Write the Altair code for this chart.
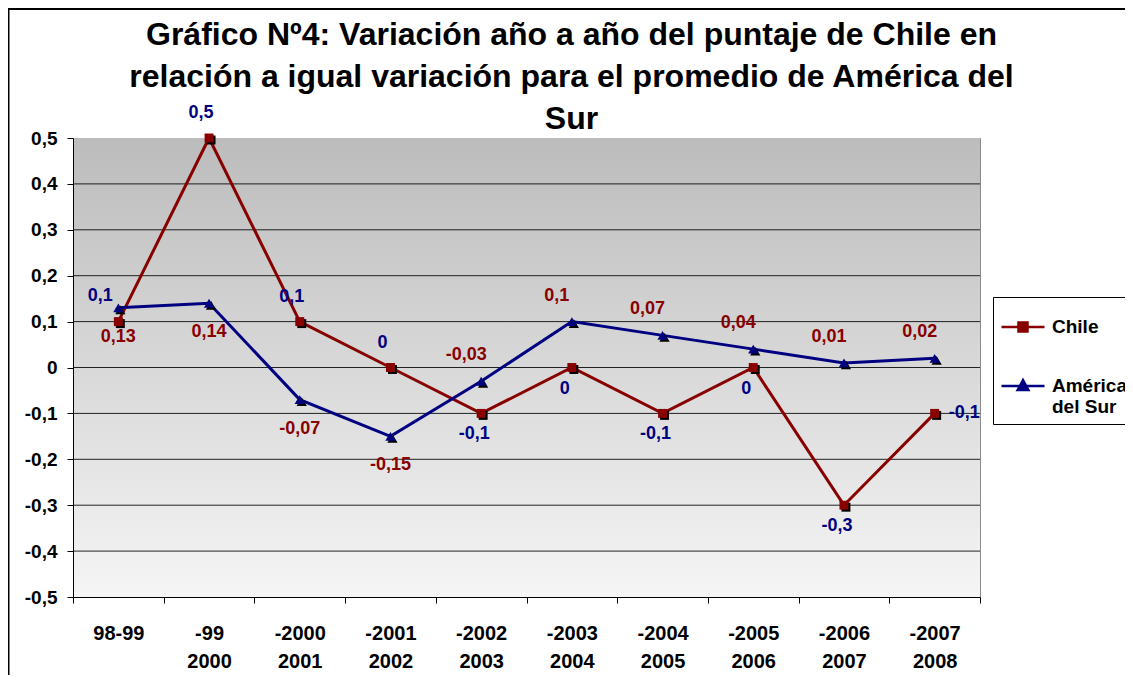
import altair as alt
import pandas as pd

# ---------------- data ----------------
periodos = ["98-99", "-99|2000", "-2000|2001", "-2001|2002", "-2002|2003",
            "-2003|2004", "-2004|2005", "-2005|2006", "-2006|2007", "-2007|2008"]
chile = [0.1, 0.5, 0.1, 0.0, -0.1, 0.0, -0.1, 0.0, -0.3, -0.1]
america = [0.13, 0.14, -0.07, -0.15, -0.03, 0.1, 0.07, 0.04, 0.01, 0.02]
# where each value's label sits relative to its point
pos_chile = ["left", "above", "above", "above", "below", "below", "below", "below", "below", "right"]
pos_america = ["below", "below", "below", "below", "above", "above", "above", "above", "above", "above"]
series = ["Chile", "América|del Sur"]
y_ticks = [-0.5, -0.4, -0.3, -0.2, -0.1, 0.0, 0.1, 0.2, 0.3, 0.4, 0.5]
titulo = ["Gráfico Nº4: Variación año a año del puntaje de Chile en",
          "relación a igual variación para el promedio de América del",
          "Sur"]

# ---------------- styles ----------------
col_line = {"Chile": "#880000", "América|del Sur": "#000080"}
# labels in the original are drawn in the other series' colour
col_label = {"Chile": "#000080", "América|del Sur": "#880000"}
shape_of = {"Chile": "square", "América|del Sur": "triangle-up"}
size_of = {"Chile": 80, "América|del Sur": 105}
legend_paths = ["M-1,0H1M-0.21,-0.21H0.21V0.21H-0.21Z",
                "M-1,0H1M0,-0.27L0.25,0.19H-0.25Z"]
FONT = "Liberation Sans"
W, H = 907, 459

def lab(v):
    return f"{v:g}".replace(".", ",")

rows = []
for s, vals, poss in [(series[0], chile, pos_chile), (series[1], america, pos_america)]:
    for p, v, ps in zip(periodos, vals, poss):
        rows.append({"periodo": p, "serie": s, "valor": v, "pos": ps, "txt": lab(v)})
df = pd.DataFrame(rows)
ticks_df = pd.DataFrame({"v": y_ticks})
one_df = pd.DataFrame({"k": [0]})

xaxis = alt.Axis(title=None, labelExpr="split(datum.label, '|')",
                 labelAngle=0, labelFont=FONT, labelFontSize=20,
                 labelFontWeight="bold", labelColor="black",
                 labelLineHeight=28, labelPadding=20,
                 tickBand="extent", tickSize=6, tickColor="black",
                 domainColor="black", domainWidth=1, grid=False, zindex=1)
xenc = alt.X("periodo:N", sort=periodos,
             scale=alt.Scale(paddingInner=0, paddingOuter=0), axis=xaxis)
yscale = alt.Scale(domain=[-0.5, 0.5], nice=False, zero=False)
yaxis = alt.Axis(title=None, values=y_ticks, grid=False,
                 labelExpr="(datum.value < -0.00001 ? '-' : '') + replace(format(abs(datum.value), '.1~f'), '.', ',')",
                 labelFont=FONT, labelFontSize=19, labelFontWeight="bold",
                 labelColor="black", labelPadding=10, tickSize=6,
                 tickColor="black", domainColor="black", domainWidth=1, zindex=1)
yenc = alt.Y("valor:Q", scale=yscale, axis=yaxis)

base = alt.Chart(df)

frame = alt.Chart(one_df).mark_rect(fillOpacity=0, stroke="black", strokeWidth=2).encode(
    x=alt.value(-64.5), x2=alt.value(W + 400), y=alt.value(-129), y2=alt.value(H + 400))

title = alt.Chart(one_df).mark_text(
    font=FONT, fontSize=32, fontWeight="bold", color="black", lineHeight=42,
    align="center", baseline="alphabetic").encode(
    x=alt.value(W / 2 + 45), y=alt.value(-93), text=alt.value(titulo))

bg = alt.Chart(one_df).mark_rect(
    color=alt.Gradient(gradient="linear",
                       stops=[alt.GradientStop(color="#bcbcbc", offset=0),
                              alt.GradientStop(color="#f5f5f5", offset=1)],
                       x1=0, x2=0, y1=0, y2=1)
).encode(x=alt.value(0), x2=alt.value(W), y=alt.value(0), y2=alt.value(H))

grid = alt.Chart(ticks_df).transform_filter("abs(datum.v) < 0.45").mark_rule(
    color="black", strokeWidth=1, opacity=0.85).encode(
    y=alt.Y("v:Q", scale=yscale, axis=yaxis))

layers = [frame, title, bg, grid]

offsets = {"above": (-8, -25, "center"), "below": (-7, 21, "center"),
           "left": (-18, -26, "center"), "right": (14, 0, "left")}
amer_off = {"above": (-15, -26, "center"), "below": (0, 29, "center")}

for s in series:
    sub = base.transform_filter(alt.datum.serie == s)
    layers.append(sub.mark_line(color=col_line[s], strokeWidth=3).encode(x=xenc, y=yenc))
for s in series:
    sub = base.transform_filter(alt.datum.serie == s)
    layers.append(sub.mark_point(shape=shape_of[s], filled=True, color="black",
                                 size=size_of[s], opacity=1, xOffset=2, yOffset=2)
                  .encode(x=xenc, y=yenc))
    layers.append(sub.mark_point(shape=shape_of[s], filled=True, color=col_line[s],
                                 size=size_of[s], opacity=1)
                  .encode(x=xenc, y=yenc))
for s in series:
    offs = offsets if s == "Chile" else amer_off
    for ps, (dx, dy, al) in offs.items():
        sub = base.transform_filter((alt.datum.serie == s) & (alt.datum.pos == ps))
        layers.append(sub.mark_text(font=FONT, fontSize=18, fontWeight="bold",
                                    color=col_label[s], dx=dx, dy=dy, align=al,
                                    baseline="middle")
                      .encode(x=xenc, y=yenc, text="txt:N"))

leg = alt.Legend(title=None, orient="none", legendX=920, legendY=159,
                 labelExpr="split(datum.label, '|')", labelFont=FONT,
                 labelFontSize=19, labelFontWeight="bold", labelColor="black",
                 symbolSize=1849, symbolStrokeWidth=2.5, symbolOpacity=1,
                 rowPadding=26, labelOffset=6, padding=7,
                 strokeColor="black", fillColor="white", cornerRadius=0)
sc_col = alt.Scale(domain=series, range=[col_line[s] for s in series])
legend_layer = base.mark_point(filled=True, opacity=1).encode(
    x=alt.value(-3000), y=alt.value(-3000),
    fill=alt.Fill("serie:N", scale=sc_col, legend=leg),
    stroke=alt.Stroke("serie:N", scale=sc_col, legend=leg),
    shape=alt.Shape("serie:N", scale=alt.Scale(domain=series, range=legend_paths), legend=leg))
layers.append(legend_layer)

chart = alt.layer(*layers).properties(
    width=W, height=H,
    autosize=alt.AutoSizeParams(type="none"),
    padding={"left": 65, "top": 130, "right": 145, "bottom": 78},
    background="white"
).configure_view(stroke="#8c8c8c", strokeWidth=1)

chart.save("out.html", embed_options={"renderer": "svg", "actions": False})
